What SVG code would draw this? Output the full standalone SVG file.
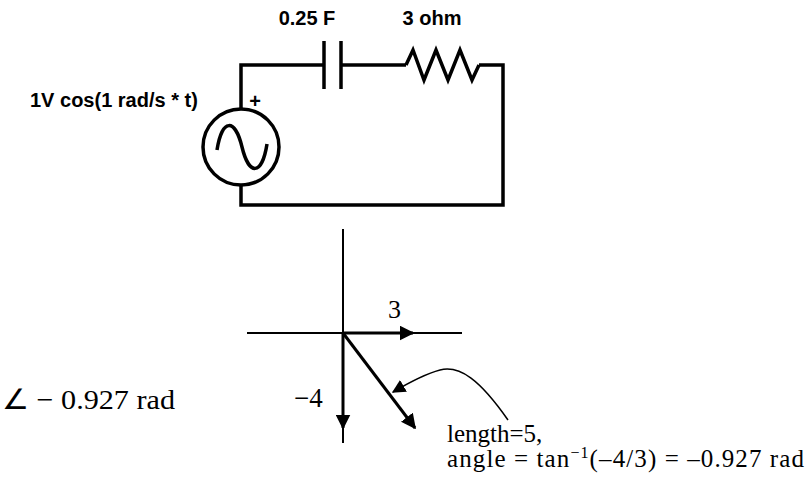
<svg xmlns="http://www.w3.org/2000/svg" width="809" height="488" viewBox="0 0 809 488">
<defs>
<style>
.w{fill:none;stroke:#000;stroke-width:3.5;stroke-linejoin:miter}
.ax{fill:none;stroke:#000;stroke-width:2}
.vec{fill:none;stroke:#000;stroke-width:3}
.lbl{font-family:"Liberation Sans",Arial,sans-serif;font-weight:bold;font-size:20px;fill:#000}
.tm{font-family:"Liberation Serif","Times New Roman",serif;fill:#000}
</style>
<marker id="ah" viewBox="0 0 10 10" refX="9" refY="5" markerWidth="5" markerHeight="5" orient="auto" markerUnits="strokeWidth">
<path d="M0,0 L10,5 L0,10 z" fill="#000"/>
</marker>
<marker id="ah2" viewBox="0 0 10 10" refX="9" refY="5" markerWidth="9" markerHeight="9" orient="auto" markerUnits="strokeWidth">
<path d="M0,0 L10,5 L0,10 z" fill="#000"/>
</marker>
</defs>
<rect width="809" height="488" fill="#fff"/>
<g id="circuit-wires">
<polyline class="w" points="324,65 241,65 241,109"/>
<polyline class="w" points="341,65 406,65"/>
<polyline class="w" points="479,65 503,65 503,205 241,205 241,185"/>
</g>
<g id="capacitor">
<line class="w" x1="324" y1="41" x2="324" y2="89"/>
<line class="w" x1="341" y1="41" x2="341" y2="89"/>
<text class="lbl" x="307" y="25" text-anchor="middle" font-size="22">0.25 F</text>
</g>
<g id="resistor">
<polyline class="w" points="406,65 413,50 424,80 436,50 448,80 460,50 472,80 479,65"/>
<text class="lbl" x="432" y="25" text-anchor="middle" font-size="22">3 ohm</text>
</g>
<g id="source">
<circle class="w" cx="241" cy="147" r="38"/>
<path class="w" d="M217,150 C222,118 235,118 242,147 C249,176 262,176 267,144"/>
<text class="lbl" x="255" y="108" text-anchor="middle" font-size="26">+</text>
<text class="lbl" x="30" y="107">1V cos(1 rad/s * t)</text>
</g>
<g id="axes">
<line class="ax" x1="343" y1="229" x2="343" y2="443"/>
<line class="ax" x1="247" y1="333" x2="462" y2="333"/>
</g>
<g id="connectors">
<line class="vec" x1="343" y1="333" x2="413" y2="333" marker-end="url(#ah)"/>
<line class="vec" x1="343" y1="333" x2="343" y2="428" marker-end="url(#ah)"/>
<line class="vec" x1="343" y1="333" x2="415" y2="428" marker-end="url(#ah)"/>
<path d="M508,420 C480,380 460,365 440,370 C425,374 410,382 393,392" fill="none" stroke="#000" stroke-width="1.5" marker-end="url(#ah2)"/>
</g>
<g id="labels">
<text class="tm" x="388" y="318" font-size="26">3</text>
<text class="tm" x="294" y="407" font-size="27">−4</text>
<text class="tm" x="2" y="409" font-size="28" textLength="173" lengthAdjust="spacingAndGlyphs">∠ − 0.927 rad</text>
<text class="tm" x="447" y="442" font-size="25">length=5,</text>
<text class="tm" x="447" y="467" font-size="25" textLength="357">angle = tan<tspan dy="-9" font-size="16">−1</tspan><tspan dy="9">(–4/3) = –0.927 rad</tspan></text>
</g>
</svg>
